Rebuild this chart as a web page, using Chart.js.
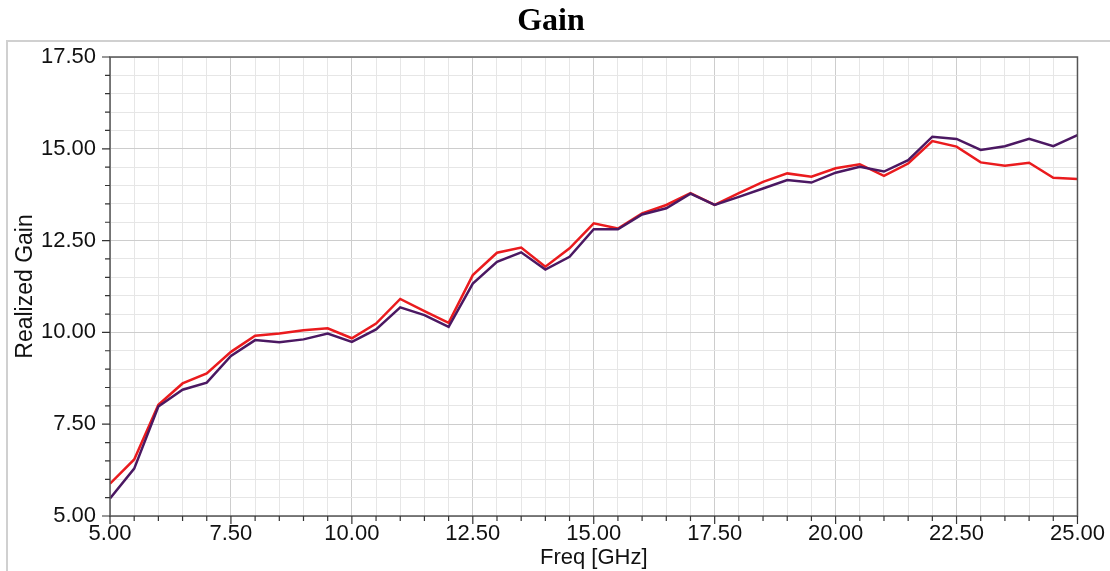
<!DOCTYPE html>
<html>
<head>
<meta charset="utf-8">
<title>Gain</title>
<script src="https://cdn.jsdelivr.net/npm/chart.js@4.4.1/dist/chart.umd.min.js"></script>
<style>
  html, body { margin: 0; padding: 0; background: #fff; }
  #wrap { width: 1110px; height: 571px; position: relative; }
</style>
</head>
<body>
<div id="wrap"><canvas id="gainChart"></canvas></div>
<script>
// Freq [GHz]
const freq = [5.0, 5.5, 6.0, 6.5, 7.0, 7.5, 8.0, 8.5, 9.0, 9.5, 10.0,
              10.5, 11.0, 11.5, 12.0, 12.5, 13.0, 13.5, 14.0, 14.5, 15.0,
              15.5, 16.0, 16.5, 17.0, 17.5, 18.0, 18.5, 19.0, 19.5, 20.0,
              20.5, 21.0, 21.5, 22.0, 22.5, 23.0, 23.5, 24.0, 24.5, 25.0];

// Realized Gain, red curve
const gainRed = [5.88, 6.54, 8.03, 8.61, 8.88, 9.47, 9.91, 9.97, 10.06, 10.11, 9.84,
                 10.24, 10.91, 10.58, 10.26, 11.56, 12.17, 12.31, 11.79, 12.29, 12.97,
                 12.83, 13.24, 13.47, 13.79, 13.47, 13.79, 14.10, 14.33, 14.24, 14.47,
                 14.58, 14.26, 14.60, 15.21, 15.06, 14.63, 14.54, 14.62, 14.21, 14.18];

// Realized Gain, purple curve
const gainPurple = [5.48, 6.29, 7.98, 8.44, 8.63, 9.36, 9.79, 9.73, 9.81, 9.97, 9.74,
                    10.08, 10.68, 10.47, 10.15, 11.33, 11.92, 12.18, 11.71, 12.06, 12.81,
                    12.81, 13.21, 13.38, 13.78, 13.47, 13.69, 13.92, 14.15, 14.08, 14.35,
                    14.51, 14.38, 14.69, 15.33, 15.27, 14.97, 15.07, 15.27, 15.07, 15.37];

const xTicks = { min: 5, max: 25, step: 0.5, major: 2.5 };
const yTicks = { min: 5, max: 17.5, step: 0.5, major: 2.5 };

function isMajor(v, m) {
    const r = v / m;
    return Math.abs(r - Math.round(r)) < 1e-6;
}

function gridColor(m) {
    return (ctx) => isMajor(ctx.tick.value, m) ? '#cdcdcd' : '#e6e6e6';
}

// frame, title, box border and tick marks
const decorations = {
    id: 'decorations',
    beforeDraw(chart) {
        const c = chart.ctx;
        c.save();
        c.strokeStyle = '#d0d0d0';
        c.lineWidth = 2;
        c.beginPath();
        c.moveTo(7, 571);
        c.lineTo(7, 41);
        c.lineTo(1110, 41);
        c.stroke();

        c.fillStyle = '#000';
        c.font = 'bold 32px "Liberation Serif", "Times New Roman", serif';
        c.textAlign = 'center';
        c.textBaseline = 'alphabetic';
        c.fillText('Gain', 551, 30);
        c.restore();
    },
    afterDatasetsDraw(chart) {
        const c = chart.ctx;
        const a = chart.chartArea;
        const xs = chart.scales.x, ys = chart.scales.y;
        c.save();
        c.strokeStyle = '#555';
        c.lineWidth = 1.5;
        c.strokeRect(a.left, a.top, a.right - a.left, a.bottom - a.top);

        c.strokeStyle = '#333';
        c.lineWidth = 1.2;
        c.beginPath();
        xs.ticks.forEach(t => {
            const px = xs.getPixelForValue(t.value);
            const len = isMajor(t.value, xTicks.major) ? 8 : 5;
            c.moveTo(px, a.bottom);
            c.lineTo(px, a.bottom + len);
        });
        ys.ticks.forEach(t => {
            const py = ys.getPixelForValue(t.value);
            const len = isMajor(t.value, yTicks.major) ? 8 : 5;
            c.moveTo(a.left, py);
            c.lineTo(a.left - len, py);
        });
        c.stroke();
        c.restore();
    }
};

const tickFont = { family: '"Liberation Sans", Arial, sans-serif', size: 22 };
const titleFont = { family: '"Liberation Sans", Arial, sans-serif', size: 22 };

new Chart(document.getElementById('gainChart'), {
    type: 'line',
    data: {
        datasets: [
            {
                label: 'purple',
                data: freq.map((f, i) => ({ x: f, y: gainPurple[i] })),
                borderColor: '#4b1862',
                borderWidth: 2.5,
                pointRadius: 0,
                tension: 0
            },
            {
                label: 'red',
                data: freq.map((f, i) => ({ x: f, y: gainRed[i] })),
                borderColor: '#ea1b1e',
                borderWidth: 2.5,
                pointRadius: 0,
                tension: 0
            }
        ]
    },
    options: {
        responsive: true,
        maintainAspectRatio: false,
        animation: false,
        layout: { autoPadding: false, padding: { top: 57, right: 27, left: 0, bottom: 0 } },
        plugins: {
            legend: { display: false },
            tooltip: { enabled: false }
        },
        scales: {
            x: {
                type: 'linear',
                min: xTicks.min, max: xTicks.max,
                afterFit(scale) { scale.height = 55; },
                grid: { color: gridColor(xTicks.major), drawTicks: false },
                border: { display: false },
                ticks: {
                    stepSize: xTicks.step,
                    autoSkip: false,
                    maxRotation: 0,
                    padding: 5,
                    color: '#111',
                    font: tickFont,
                    callback: v => isMajor(v, xTicks.major) ? v.toFixed(2) : ''
                },
                title: {
                    display: true,
                    text: 'Freq [GHz]',
                    color: '#111',
                    font: titleFont,
                    padding: 0
                }
            },
            y: {
                min: yTicks.min, max: yTicks.max,
                afterFit(scale) { scale.width = 110; },
                grid: { color: gridColor(yTicks.major), drawTicks: false },
                border: { display: false },
                ticks: {
                    stepSize: yTicks.step,
                    autoSkip: false,
                    padding: 14,
                    color: '#111',
                    font: tickFont,
                    callback: v => isMajor(v, yTicks.major) ? v.toFixed(2) : ''
                },
                title: {
                    display: true,
                    text: 'Realized Gain',
                    color: '#111',
                    font: { family: titleFont.family, size: 23 },
                    padding: { top: 12, bottom: 0 }
                }
            }
        }
    },
    plugins: [decorations]
});
</script>
</body>
</html>
